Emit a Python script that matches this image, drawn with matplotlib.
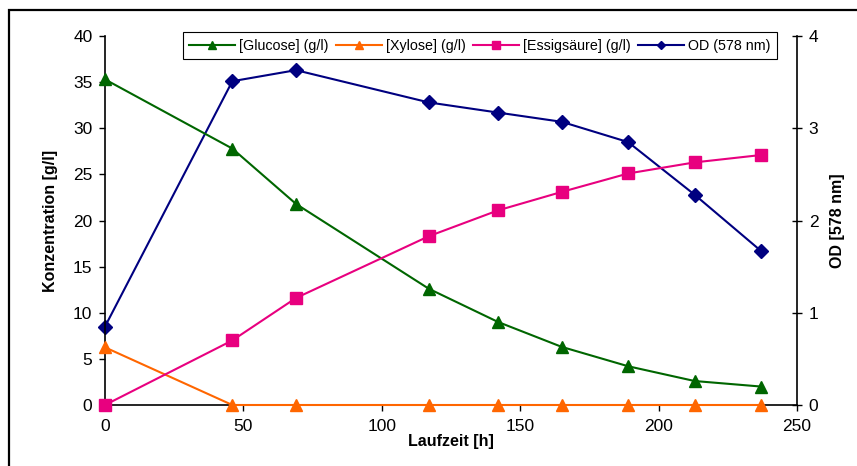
import matplotlib.pyplot as plt
from matplotlib.patches import Rectangle

plt.rcParams['font.family'] = ['Liberation Sans', 'DejaVu Sans']

# Laufzeit [h]
zeit = [0, 46, 69, 117, 142, 165, 189, 213, 237]
glucose = [35.3, 27.8, 21.8, 12.6, 9.0, 6.3, 4.2, 2.6, 2.0]
xylose = [6.25, 0, 0, 0, 0, 0, 0, 0, 0]
essig = [0, 7.0, 11.6, 18.3, 21.1, 23.1, 25.1, 26.3, 27.1]
od = [0.85, 3.51, 3.63, 3.28, 3.17, 3.07, 2.85, 2.28, 1.67]

labels = ['[Glucose] (g/l)', '[Xylose] (g/l)', '[Essigsäure] (g/l)', 'OD (578 nm)']

fig = plt.figure(figsize=(8.57, 4.66), dpi=100)
ax = fig.add_axes([0.1225, 0.1309, 0.8075, 0.7918])
ax2 = ax.twinx()

lw = 1.5
l1, = ax.plot(zeit, glucose, color='#006600', marker='^', ms=9, lw=lw, clip_on=False, zorder=3)
l2, = ax.plot(zeit, xylose, color='#ff6600', marker='^', ms=9, lw=lw, clip_on=False, zorder=3)
l3, = ax.plot(zeit, essig, color='#e8007f', marker='s', ms=9, lw=lw, clip_on=False, zorder=4)
l4, = ax2.plot(zeit, od, color='#000080', marker='D', ms=7, lw=lw, clip_on=False, zorder=3)

ax.set_xlim(0, 250)
ax.set_ylim(0, 40)
ax2.set_ylim(0, 4)
ax.set_xticks(range(0, 251, 50))
ax.set_yticks(range(0, 41, 5))
ax2.set_yticks(range(0, 5))

for a in (ax, ax2):
    for s in a.spines.values():
        s.set_visible(False)
ax.spines['left'].set_visible(True)
ax.spines['bottom'].set_visible(True)
ax2.spines['right'].set_visible(True)
for s in (ax.spines['left'], ax.spines['bottom'], ax2.spines['right']):
    s.set_linewidth(1.2)
    s.set_color('black')

ax.tick_params(axis='y', direction='out', length=4, width=1, labelsize=12.5, pad=5)
ax.tick_params(axis='x', direction='out', length=4, width=1, labelsize=12.5, pad=6)
ax2.tick_params(axis='y', direction='inout', length=7, width=1, labelsize=12.5, pad=5)

ax.set_xlabel('Laufzeit [h]', fontsize=11.5, fontweight='bold', labelpad=0)
ax.set_ylabel('Konzentration [g/l]', fontsize=11.5, fontweight='bold', labelpad=11)
ax2.set_ylabel('OD [578 nm]', fontsize=11.5, fontweight='bold', labelpad=8)

leg = ax.legend([l1, l2, l3, l4], labels, loc='upper center', ncol=4,
                bbox_to_anchor=(0.542, 1.03), fontsize=10.3, markerscale=0.6,
                handlelength=3.2, handletextpad=0.3, columnspacing=0.5,
                borderpad=0.45, fancybox=False, framealpha=1, edgecolor='black')
leg.get_frame().set_linewidth(0.8)
leg.set_zorder(10)
ax.set_zorder(ax2.get_zorder() + 1)
ax.patch.set_visible(False)

# frame around the chart
fig.add_artist(Rectangle((9 / 857, -0.1), 1.2, 1 - 10 / 466 + 0.1,
                         transform=fig.transFigure, fill=False,
                         edgecolor='black', lw=1.6))

fig.savefig('out.png', dpi=100)
